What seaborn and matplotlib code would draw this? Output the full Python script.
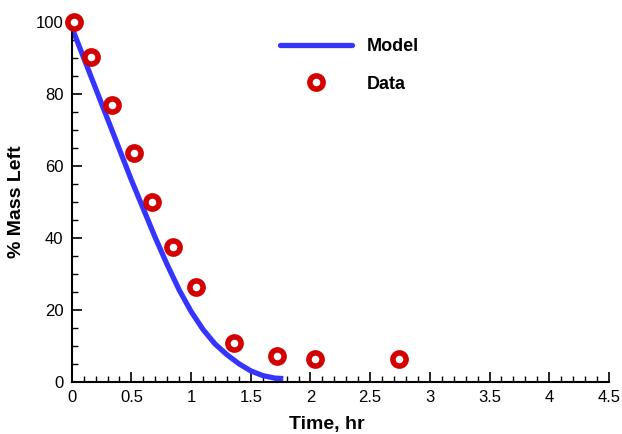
import matplotlib
matplotlib.use("Agg")
import matplotlib.pyplot as plt
import seaborn as sns
import pandas as pd
from matplotlib.ticker import MultipleLocator, FuncFormatter
from matplotlib.lines import Line2D

# Data
model_time = [0.0, 0.1, 0.2, 0.3, 0.4, 0.5, 0.6, 0.7, 0.8, 0.9, 1.0, 1.1, 1.2, 1.3, 1.4, 1.5, 1.6, 1.7, 1.75]
model_mass = [98.5, 90.0, 81.5, 73.0, 64.5, 56.0, 48.0, 40.0, 32.5, 25.5, 19.5, 14.5, 10.5, 7.5, 5.0, 3.0, 1.7, 1.0, 0.9]
data_time = [0.02, 0.16, 0.34, 0.52, 0.67, 0.85, 1.04, 1.36, 1.72, 2.04, 2.74]
data_mass = [100.0, 90.3, 77.0, 63.5, 50.0, 37.5, 26.3, 10.8, 7.2, 6.3, 6.3]

model_df = pd.DataFrame({"Time": model_time, "Mass": model_mass})
data_df = pd.DataFrame({"Time": data_time, "Mass": data_mass})

sns.set_style("ticks")
plt.rcParams["font.family"] = ["Liberation Sans", "DejaVu Sans"]
plt.rcParams["text.color"] = "black"
plt.rcParams["axes.labelcolor"] = "black"
plt.rcParams["xtick.color"] = "black"
plt.rcParams["ytick.color"] = "black"

fig = plt.figure(figsize=(6.22, 4.34), dpi=100)
ax = fig.add_axes([0.1153, 0.1205, 0.979 - 0.1153, 0.95 - 0.1205])

blue = "#3535ff"
red = "#d40000"

sns.lineplot(data=model_df, x="Time", y="Mass", ax=ax, color=blue, linewidth=3.8,
             solid_capstyle="projecting", zorder=2)
sns.scatterplot(data=data_df, x="Time", y="Mass", ax=ax, marker="o", s=90,
                facecolor="white", edgecolor=red, linewidth=4.0, zorder=3, clip_on=False)

ax.set_xlim(0, 4.5)
ax.set_ylim(0, 100)
ax.xaxis.set_major_locator(MultipleLocator(0.5))
ax.xaxis.set_minor_locator(MultipleLocator(0.1))
ax.yaxis.set_major_locator(MultipleLocator(20))
ax.yaxis.set_minor_locator(MultipleLocator(5))
ax.xaxis.set_major_formatter(FuncFormatter(lambda v, p: f"{v:g}"))
ax.tick_params(axis="both", which="major", direction="in", length=7, width=1.2,
               labelsize=12, colors="black", pad=6)
ax.tick_params(axis="both", which="minor", direction="in", length=4, width=1.0, colors="black")
for s in ["top", "right"]:
    ax.spines[s].set_visible(False)
for s in ["left", "bottom"]:
    ax.spines[s].set_linewidth(1.5)
    ax.spines[s].set_color("black")

ax.set_xlabel("Time, hr", fontsize=14, fontweight="bold", labelpad=2, color="black")
ax.set_ylabel("% Mass Left", fontsize=14, fontweight="bold", labelpad=8, color="black")
ax.xaxis.set_label_coords(0.475, -0.095)

handles = [
    Line2D([], [], color=blue, linewidth=3.8),
    Line2D([], [], color=red, marker="o", markersize=9.5, markerfacecolor="white",
           markeredgecolor=red, markeredgewidth=4.0, linestyle="none"),
]
fig.legend(handles, ["Model", "Data"], loc="upper left",
           bbox_to_anchor=(280 / 622, 1 - 38 / 434), frameon=False,
           prop={"weight": "bold", "size": 13}, handlelength=4.0,
           handletextpad=0.8, labelspacing=1.15, borderpad=0, borderaxespad=0,
           labelcolor="black")

fig.savefig("out.png", dpi=100)
